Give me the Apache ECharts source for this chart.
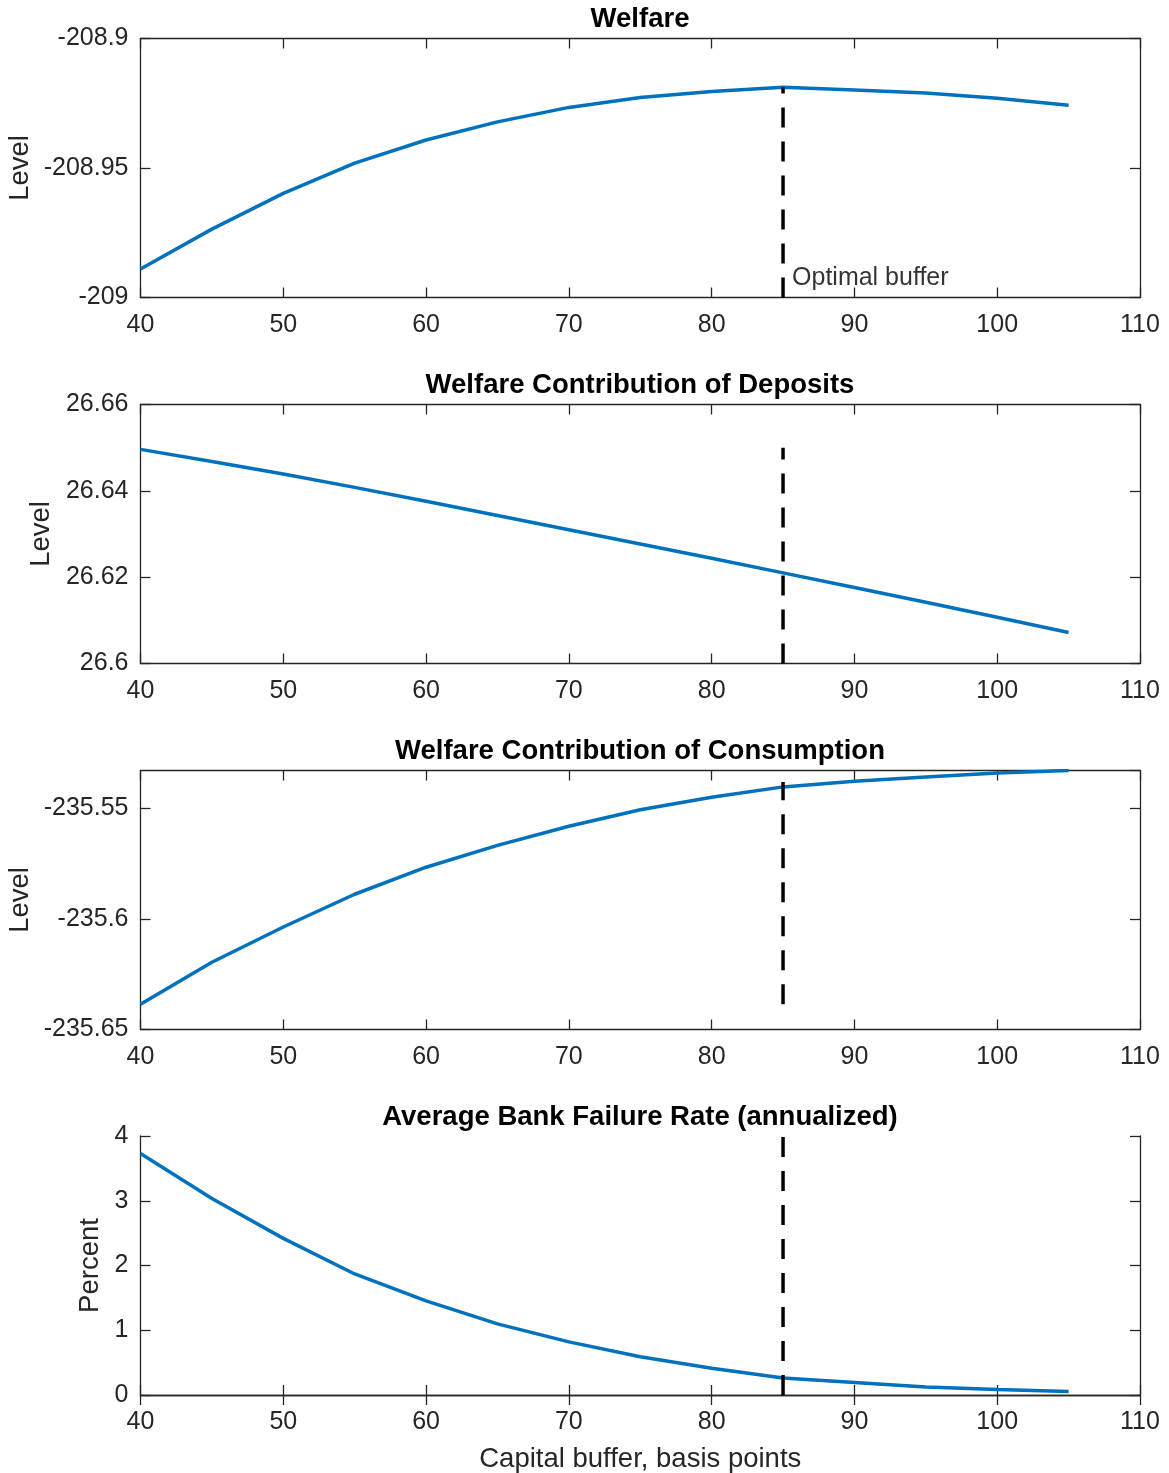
<!DOCTYPE html>
<html>
<head>
<meta charset="utf-8">
<script src="https://cdn.jsdelivr.net/npm/echarts@6/dist/echarts.min.js"></script>
<style>
html,body{margin:0;padding:0;background:#fff;}
#chart{width:1169px;height:1473px;}
</style>
</head>
<body>
<div id="chart"></div>
<script>
// ---- data ----
const buffer = [40,45,50,55,60,65,70,75,80,85,90,95,100,105];
const welfare = [-208.9890,-208.9736,-208.9598,-208.9481,-208.9392,-208.9322,-208.9266,-208.9228,-208.9205,-208.9188,-208.9199,-208.9210,-208.9231,-208.9258];
const deposits = [26.6496,26.6468,26.6439,26.6408,26.6376,26.6343,26.6310,26.6277,26.6244,26.6210,26.6176,26.6142,26.6107,26.6072];
const consumption = [-235.6386,-235.6196,-235.6037,-235.5889,-235.5767,-235.5668,-235.5582,-235.5507,-235.5451,-235.5404,-235.5379,-235.5359,-235.5341,-235.5330];
const failureRate = [3.729,3.035,2.419,1.869,1.453,1.099,0.821,0.590,0.413,0.262,0.194,0.123,0.086,0.055];
const optimalBuffer = 85;
const optimalSpan = [[-209,-208.9188],[26.6,26.65],[-235.6386,-235.5382],[0,4]];
const titles = ['Welfare','Welfare Contribution of Deposits','Welfare Contribution of Consumption','Average Bank Failure Rate (annualized)'];
const yNames = ['Level','Level','Level','Percent'];
const yMin = [-209, 26.6, -235.65, 0];
const yMax = [-208.9, 26.66, -235.533, 4];
const yInterval = [0.05, 0.02, 0.05, 1];
const xTicks = {min:40, max:110, interval:10};
const annotationText = 'Optimal buffer';
const annotationY = -208.9925;
const xName = 'Capital buffer, basis points';

// ---- layout ----
const FONT = '"Liberation Sans", Arial, Helvetica, sans-serif';
const AX = '#262626';
const tops = [38.5, 404.5, 770.5, 1136];
const H = 259;
const yNameGaps = [106, 85, 106, 36];
const seriesData = [welfare, deposits, consumption, failureRate];

const grids=[], xAxes=[], yAxes=[], series=[], title=[];
for (let i=0;i<4;i++){
  grids.push({left:140.5, right:29, top:tops[i], height:H, containLabel:false, outerBoundsMode:'none'});
  title.push({text:titles[i], left:640, top:tops[i]-33, textAlign:'center', padding:0,
    textStyle:{fontFamily:FONT, fontSize:27.5, fontWeight:'bold', color:'#000'}});
  const axLine = {show:true, lineStyle:{color:AX, width:1.3}};
  const tick = {show:true, inside:true, length:10, lineStyle:{color:AX, width:1.3}};
  xAxes.push({type:'value', gridIndex:i, position:'bottom', min:xTicks.min, max:xTicks.max, interval:xTicks.interval,
    axisLine:axLine, axisTick:tick, splitLine:{show:false},
    axisLabel:{fontFamily:FONT, fontSize:25, color:AX, margin:15},
    name: i===3 ? xName : '', nameLocation:'middle', nameGap:50, nameMoveOverlap:false,
    nameTextStyle:{fontFamily:FONT, fontSize:27.5, color:AX}});
  xAxes.push({type:'value', gridIndex:i, position:'top', min:xTicks.min, max:xTicks.max, interval:xTicks.interval,
    axisLine:axLine, axisTick:tick, splitLine:{show:false}, axisLabel:{show:false}});
  yAxes.push({type:'value', gridIndex:i, position:'left', min:yMin[i], max:yMax[i], interval:yInterval[i],
    axisLine:axLine, axisTick:tick, splitLine:{show:false},
    axisLabel:{fontFamily:FONT, fontSize:25, color:AX, margin:12, showMaxLabel: i===2 ? false : true,
      padding:[4,0,0,0]},
    name:yNames[i], nameLocation:'middle', nameGap:yNameGaps[i], nameMoveOverlap:false,
    nameTextStyle:{fontFamily:FONT, fontSize:27.5, color:AX}});
  yAxes.push({type:'value', gridIndex:i, position:'right', min:yMin[i], max:yMax[i], interval:yInterval[i],
    axisLine:axLine, axisTick:tick, splitLine:{show:false}, axisLabel:{show:false}});
  series.push({type:'line', xAxisIndex:2*i, yAxisIndex:2*i, data: buffer.map((b,k)=>[b, seriesData[i][k]]),
    showSymbol:false, symbol:'none', lineStyle:{color:'#0072BD', width:3.5}, silent:true, z:3});
  series.push({type:'line', xAxisIndex:2*i, yAxisIndex:2*i,
    data:[[optimalBuffer, optimalSpan[i][0]],[optimalBuffer, optimalSpan[i][1]]],
    showSymbol:false, symbol:'none', lineStyle:{color:'#000', width:3.5, type:[20,14]}, silent:true, z:4});
}
series.push({type:'scatter', xAxisIndex:0, yAxisIndex:0, data:[[optimalBuffer, annotationY]],
  symbolSize:0, silent:true,
  label:{show:true, position:'right', distance:9, formatter:annotationText,
    fontFamily:FONT, fontSize:25, color:'#000'}});

const chart = echarts.init(document.getElementById('chart'), null, {renderer:'canvas'});
chart.setOption({animation:false, backgroundColor:'#fff', title, grid:grids, xAxis:xAxes, yAxis:yAxes, series});
</script>
</body>
</html>
